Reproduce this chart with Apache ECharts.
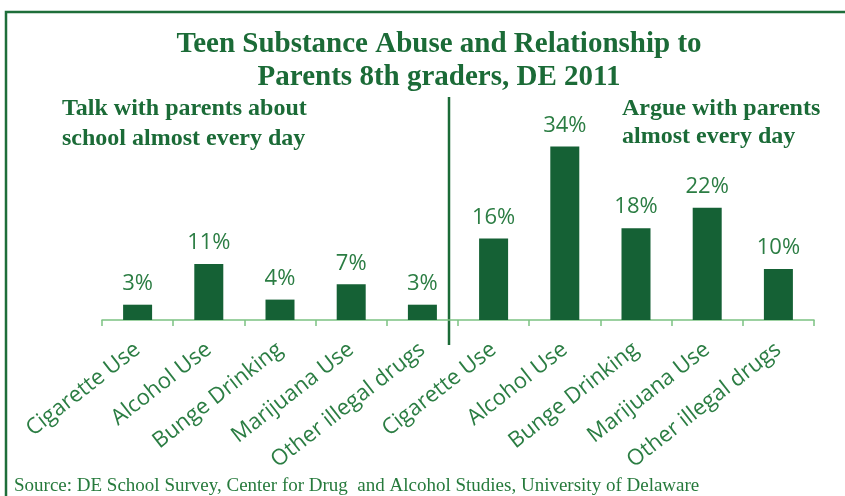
<!DOCTYPE html>
<html>
<head>
<meta charset="utf-8">
<script src="https://cdn.jsdelivr.net/npm/echarts@6/dist/echarts.min.js"></script>
<style>
  html, body { margin: 0; padding: 0; background: #ffffff; }
  #chart { width: 845px; height: 496px; }
</style>
</head>
<body>
<div id="chart"></div>
<script>
// Substances asked about, repeated for each parent-relationship group
const substances = ['Cigarette Use', 'Alcohol Use', 'Bunge Drinking', 'Marijuana Use', 'Other illegal drugs'];
// Percent of 8th graders who talk with parents about school almost every day
const talkValues = [3, 11, 4, 7, 3];
// Percent of 8th graders who argue with parents almost every day
const argueValues = [16, 34, 18, 22, 10];

const categories = substances.concat(substances);
const values = talkValues.concat(argueValues);

const darkGreen = '#1b6b37';
const barGreen = '#156135';
const labelGreen = '#2b7d43';

const chart = echarts.init(document.getElementById('chart'), null, { renderer: 'canvas' });

chart.setOption({
  animation: false,
  backgroundColor: '#ffffff',
  title: {
    text: 'Teen Substance Abuse and Relationship to\nParents 8th graders, DE 2011',
    left: 434,
    top: 23,
    textAlign: 'center',
    textStyle: {
      fontFamily: 'Liberation Serif',
      fontWeight: 'bold',
      fontSize: 29,
      lineHeight: 33,
      color: darkGreen
    }
  },
  grid: { left: 102, right: 31, top: 116, bottom: 176 },
  xAxis: {
    type: 'category',
    data: categories,
    axisLine: { lineStyle: { color: '#7cc283', width: 1.5 } },
    axisTick: { show: true, length: 6, lineStyle: { color: '#7cc283', width: 1.5 } },
    axisLabel: {
      interval: 0,
      rotate: 38,
      margin: 27,
      fontFamily: 'Open Sans',
      fontSize: 22,
      color: labelGreen
    }
  },
  yAxis: {
    type: 'value',
    min: 0,
    max: 40,
    show: false
  },
  series: [{
    type: 'bar',
    data: values,
    barWidth: 29,
    itemStyle: { color: barGreen },
    label: {
      show: true,
      position: 'top',
      distance: 10,
      formatter: '{c}%',
      fontFamily: 'Open Sans',
      fontSize: 22,
      color: labelGreen
    }
  }],
  graphic: [
    {
      type: 'rect',
      shape: { x: 6, y: 12, width: 860, height: 500 },
      style: { fill: 'none', stroke: '#1e6e3a', lineWidth: 2.5 },
      silent: true
    },
    {
      type: 'line',
      shape: { x1: 449, y1: 97, x2: 449, y2: 345 },
      style: { stroke: darkGreen, lineWidth: 2.5 },
      silent: true
    },
    {
      type: 'text',
      left: 62,
      top: 94,
      style: {
        text: 'Talk with parents about\nschool almost every day',
        font: 'bold 24px "Liberation Serif"',
        lineHeight: 30,
        fill: darkGreen
      }
    },
    {
      type: 'text',
      left: 622,
      top: 95,
      style: {
        text: 'Argue with parents\nalmost every day',
        font: 'bold 24px "Liberation Serif"',
        lineHeight: 28,
        fill: darkGreen
      }
    },
    {
      type: 'text',
      left: 14,
      top: 477,
      style: {
        text: 'Source: DE School Survey, Center for Drug  and Alcohol Studies, University of Delaware',
        font: '19px "Liberation Serif"',
        fill: '#267a3c'
      }
    }
  ]
});
</script>
</body>
</html>
